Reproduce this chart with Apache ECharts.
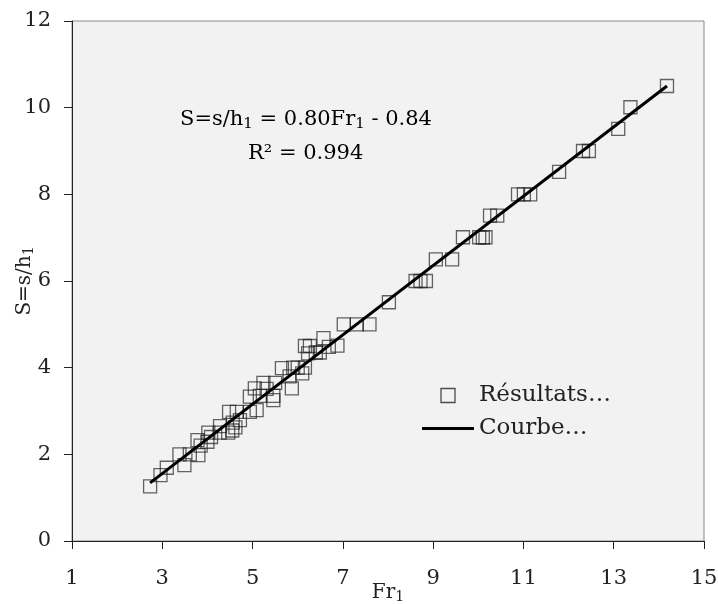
<!DOCTYPE html>
<html>
<head>
<meta charset="utf-8">
<script src="https://cdn.jsdelivr.net/npm/echarts@6/dist/echarts.min.js"></script>
<style>
  html, body { margin: 0; padding: 0; background: #fff; }
  #chart { width: 718px; height: 604px; }
</style>
</head>
<body>
<div id="chart"></div>
<script>
// measured points (Fr1, S)
var resultsFr = [2.73, 2.96, 3.10, 3.49, 3.38, 3.61, 3.80, 3.78, 3.85, 4.00, 4.02, 4.08,
  4.28, 4.27, 4.46, 4.55, 4.48, 4.65, 4.72, 4.56, 4.62, 4.94, 4.94, 5.09, 5.05, 5.16,
  5.24, 5.31, 5.46, 5.50, 5.46, 5.65, 5.87, 5.82, 5.90, 6.00, 6.16, 6.10, 6.16, 6.27,
  6.23, 6.40, 6.49, 6.57, 6.69, 6.88, 7.02, 7.31, 7.59, 8.02, 8.61, 8.72, 8.84, 9.06,
  9.42, 9.66, 10.02, 10.10, 10.16, 10.26, 10.42, 10.88, 11.01, 11.15, 11.79, 12.32,
  12.45, 13.10, 13.37, 14.18];
var resultsS = [1.26, 1.52, 1.69, 1.75, 2.00, 2.00, 1.98, 2.33, 2.20, 2.29, 2.50, 2.40,
  2.65, 2.50, 2.50, 2.55, 2.98, 2.98, 2.79, 2.73, 2.62, 3.33, 2.98, 3.02, 3.52, 3.35,
  3.65, 3.51, 3.25, 3.65, 3.35, 3.99, 3.52, 3.80, 4.00, 4.00, 4.00, 3.87, 4.50, 4.50,
  4.33, 4.35, 4.35, 4.68, 4.48, 4.51, 5.00, 5.00, 5.00, 5.51, 6.00, 6.00, 6.00, 6.50,
  6.50, 7.01, 7.01, 7.00, 7.01, 7.51, 7.51, 8.00, 8.00, 8.00, 8.52, 9.00,
  9.00, 9.51, 10.01, 10.50];
// fitted line end points
var courbeFr = [2.73, 14.18];
var courbeS = [1.34, 10.50];

var seriesNames = ['Résultats…', 'Courbe…'];

var FONT = 'DejaVu Serif';
var TXT = '#222';

var chart = echarts.init(document.getElementById('chart'));

function pairs(xs, ys) {
  return xs.map(function (x, i) { return [x, ys[i]]; });
}

// rich styles for text with subscripts
function richSub(size) {
  return {
    a: { fontFamily: FONT, fontSize: size, color: TXT },
    s: { fontFamily: FONT, fontSize: Math.round(size * 0.72), color: TXT, padding: [Math.round(size * 0.45), 0, 0, 0] }
  };
}

var option = {
  animation: false,
  backgroundColor: '#fff',
  textStyle: { fontFamily: FONT, color: TXT },
  grid: {
    left: 72, top: 21, right: 14, bottom: 63,
    outerBoundsMode: 'none',
    containLabel: false,
    show: true,
    backgroundColor: '#f2f2f2',
    borderColor: '#8a8a8a',
    borderWidth: 1
  },
  legend: {
    orient: 'vertical',
    left: 417,
    top: 379,
    itemWidth: 52,
    itemHeight: 14,
    itemGap: 10,
    textStyle: { fontFamily: FONT, fontSize: 23, color: TXT },
    data: [
      {
        name: seriesNames[0],
        icon: 'path://M0,0H10V10H0Z',
        itemStyle: { color: 'rgba(0,0,0,0)', borderColor: '#222', borderWidth: 1.3 }
      },
      { name: seriesNames[1], icon: 'path://M0,0H52V3H0Z', itemStyle: { color: '#000' } }
    ]
  },
  xAxis: {
    type: 'value',
    min: 1, max: 15, interval: 2,
    name: '{a|Fr}{s|1}',
    nameLocation: 'middle',
    nameGap: 40,
    nameMoveOverlap: false,
    nameTextStyle: { rich: richSub(20) },
    axisLine: { show: true, lineStyle: { color: '#222', width: 1 } },
    axisTick: { show: true, inside: false, length: 8, lineStyle: { color: '#222' } },
    axisLabel: { margin: 27, fontFamily: FONT, fontSize: 21, color: TXT },
    splitLine: { show: false }
  },
  yAxis: {
    type: 'value',
    min: 0, max: 12, interval: 2,
    name: '{a|S=s/h}{s|1}',
    nameLocation: 'middle',
    nameGap: 36,
    nameMoveOverlap: false,
    nameTextStyle: { rich: richSub(20) },
    axisLine: { show: true, lineStyle: { color: '#222', width: 1 } },
    axisTick: { show: true, inside: false, length: 8, lineStyle: { color: '#222' } },
    axisLabel: { margin: 21, fontFamily: FONT, fontSize: 21, color: TXT },
    splitLine: { show: false }
  },
  graphic: [
    {
      type: 'text', left: 180, top: 109, z: 10,
      style: { text: '{a|S=s/h}{s|1}{a| = 0.80Fr}{s|1}{a| - 0.84}', rich: richSub(21) }
    },
    {
      type: 'text', left: 248, top: 143, z: 10,
      style: { text: '{a|R² = 0.994}', rich: richSub(21) }
    }
  ],
  series: [
    {
      name: seriesNames[0],
      type: 'scatter',
      symbol: 'rect',
      symbolSize: 13,
      itemStyle: { color: 'rgba(0,0,0,0)', borderColor: 'rgba(30,30,30,0.85)', borderWidth: 1.3 },
      data: pairs(resultsFr, resultsS),
      z: 2
    },
    {
      name: seriesNames[1],
      type: 'line',
      symbol: 'none',
      lineStyle: { color: '#000', width: 3 },
      itemStyle: { color: '#000' },
      data: pairs(courbeFr, courbeS),
      z: 3
    }
  ]
};

chart.setOption(option);
</script>
</body>
</html>
